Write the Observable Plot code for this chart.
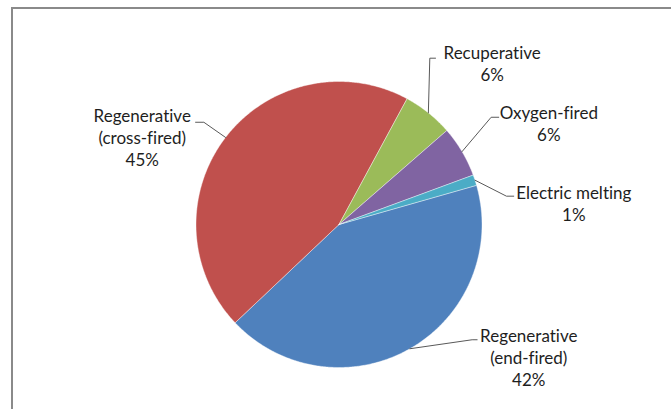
<!DOCTYPE html>
<html>
<head>
<meta charset="utf-8">
<script src="https://cdn.jsdelivr.net/npm/d3@7"></script>
<script src="https://cdn.jsdelivr.net/npm/@observablehq/plot@0.6"></script>
<style>
  html, body { margin: 0; padding: 0; background: #fff; }
  #wrap { position: relative; width: 671px; height: 409px; overflow: hidden; }
  #frame { position: absolute; left: 11px; top: 7px; width: 800px; height: 600px;
           border-top: 2px solid #8a8a8a; border-left: 2px solid #8a8a8a; pointer-events: none; }
  svg text { font-variant-ligatures: none; font-feature-settings: "liga" 0; }
</style>
</head>
<body>
<div id="wrap"><div id="frame"></div></div>
<script>
// Data (order is clockwise from the first slice)
const categories = ["Regenerative (end-fired)", "Regenerative (cross-fired)", "Recuperative", "Oxygen-fired", "Electric melting"];
const labelNames = ["Regenerative\n(end-fired)", "Regenerative\n(cross-fired)", "Recuperative", "Oxygen-fired", "Electric melting"];
const shares = [42.4, 45.0, 5.7, 5.8, 1.2];
const percentLabels = ["42%", "45%", "6%", "6%", "1%"];
const colors = ["#4F81BD", "#C0504D", "#9BBB59", "#8064A2", "#4BACC6"];

// Layout (style): first slice angle, label placement in pie-radius units
const firstSliceAngle = 74.1; // degrees clockwise from 12 o'clock
const labelLayout = [
  {text: [1.327, -0.928], elbow: [0.931, -0.806], end: [0.966, -0.806]},
  {text: [-1.376, 0.610], elbow: [-0.945, 0.715], end: [-1.003, 0.715]},
  {text: [1.071, 1.129], elbow: [0.635, 1.163], end: [0.675, 1.163]},
  {text: [1.467, 0.710], elbow: [1.064, 0.750], end: [1.117, 0.750]},
  {text: [1.642, 0.150], elbow: [1.171, 0.198], end: [1.222, 0.198]}
];

const W = 671, H = 409, R = 143, CX = 338.5, CY = 224;

const pie = d3.pie().sort(null).value(d => d.value)
  .startAngle(firstSliceAngle * Math.PI / 180)
  .endAngle(firstSliceAngle * Math.PI / 180 + 2 * Math.PI);
const table = categories.map((c, i) => ({category: c, value: shares[i], label: labelNames[i] + "\n" + percentLabels[i], color: colors[i], layout: labelLayout[i]}));
const arcs = pie(table);

// Sector outlines
const sectorPts = [];
for (const a of arcs) {
  const c = a.data.category;
  sectorPts.push({category: c, x: 0, y: 0});
  const n = Math.max(4, Math.ceil((a.endAngle - a.startAngle) / (Math.PI / 360)));
  for (let k = 0; k <= n; k++) {
    const t = a.startAngle + (a.endAngle - a.startAngle) * k / n;
    sectorPts.push({category: c, x: Math.sin(t), y: Math.cos(t)});
  }
  sectorPts.push({category: c, x: 0, y: 0});
}

// Leader lines: from slice mid-angle on the rim to elbow to end
const leaderPts = [];
for (const a of arcs) {
  const m = (a.startAngle + a.endAngle) / 2;
  const c = a.data.category, L = a.data.layout;
  leaderPts.push({category: c, x: Math.sin(m), y: Math.cos(m)});
  leaderPts.push({category: c, x: L.elbow[0], y: L.elbow[1]});
  leaderPts.push({category: c, x: L.end[0], y: L.end[1]});
}

const labels = arcs.map(a => ({label: a.data.label, x: a.data.layout.text[0], y: a.data.layout.text[1]}));

const chart = Plot.plot({
  width: W, height: H,
  margin: 0,
  x: {domain: [-CX / R, (W - CX) / R], axis: null},
  y: {domain: [-(H - CY) / R, CY / R], axis: null},
  color: {domain: categories, range: colors},
  style: {fontFamily: "Lato, 'Open Sans', sans-serif", background: "transparent"},
  marks: [
    Plot.line(sectorPts, {x: "x", y: "y", z: "category", fill: "category", stroke: "white", strokeWidth: 0.4, curve: "linear"}),
    Plot.line(leaderPts, {x: "x", y: "y", z: "category", stroke: "#595959", strokeWidth: 1, curve: "linear"}),
    Plot.text(labels, {x: "x", y: "y", text: "label", fontSize: 17, lineHeight: 1.28, fill: "#1e1e1e", textAnchor: "middle", lineAnchor: "middle"})
  ]
});
document.getElementById("wrap").insertBefore(chart, document.getElementById("frame"));
</script>
</body>
</html>
